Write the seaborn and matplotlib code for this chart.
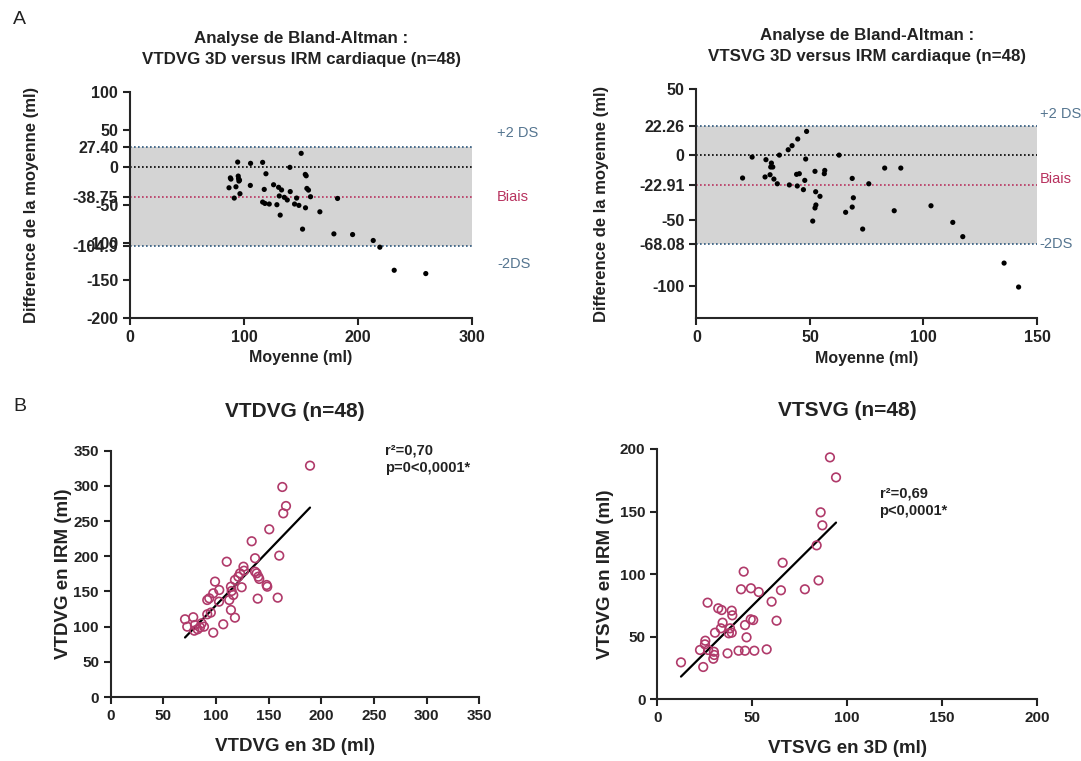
import numpy as np
import pandas as pd
import seaborn as sns
import matplotlib.pyplot as plt

# ---- data ----
# Bland-Altman VTDVG (mean, difference)
ba_tdv_mean = [86.8, 88.5, 91.4, 92.9, 94.4, 94.9, 95.2, 95.5, 96.4, 105.7, 105.5, 116.3,
               119.2, 117.7, 116.3, 118.3, 122.1, 125.9, 128.8, 130.3, 131.7, 132.9, 130.9,
               135.3, 137.9, 140.2, 140.5, 144.3, 146.1, 148.1, 150.1, 151.3, 153.7, 154.5,
               155.1, 156.5, 153.9, 158.3, 166.5, 182.0, 178.8, 195.2, 213.3, 219.1, 231.7,
               259.4, 88.0, 96.0]
ba_tdv_diff = [-27.1, -15.6, -40.8, -25.8, 7.0, -11.6, -15.1, -18.2, -35.0, 5.3, -24.0, 6.6,
               -8.5, -29.3, -46.1, -47.9, -48.7, -23.1, -49.6, -26.5, -63.4, -30.0, -38.0,
               -39.8, -43.3, 0.0, -32.2, -48.7, -40.8, -50.5, 18.6, -82.0, -9.4, -11.2,
               -28.0, -30.2, -53.7, -39.0, -59.0, -41.3, -88.3, -89.2, -97.1, -106.0, -136.6,
               -141.0, -14.0, -17.0]
tdv_bias, tdv_lo, tdv_hi = -38.75, -104.9, 27.40

# Bland-Altman VTSVG
ba_tsv_mean = [20.3, 24.5, 30.2, 30.6, 32.4, 33.0, 32.7, 33.6, 34.1, 35.6, 36.5, 40.4, 42.1,
               44.6, 48.5, 40.9, 44.1, 45.3, 44.4, 47.7, 47.1, 48.1, 52.2, 52.5, 54.4, 52.6,
               52.2, 51.2, 56.5, 56.3, 62.8, 65.7, 68.6, 69.1, 68.6, 73.2, 75.9, 82.9, 90.0,
               87.1, 103.3, 112.9, 117.3, 135.5, 141.9]
ba_tsv_diff = [-17.8, -1.8, -17.0, -3.8, -15.3, -6.4, -9.4, -9.4, -18.6, -22.2, -0.3, 3.8, 6.9,
               12.0, 17.8, -23.1, -15.0, -14.5, -23.9, -19.6, -26.7, -3.3, -12.7, -28.3, -31.8,
               -38.4, -40.7, -50.7, -12.0, -14.5, -0.3, -44.0, -18.1, -32.9, -40.0, -56.8,
               -22.2, -10.2, -10.2, -42.8, -39.0, -51.7, -62.6, -82.8, -101.1]
tsv_bias, tsv_lo, tsv_hi = -22.91, -68.08, 22.26

# Correlation VTDVG (3D, IRM)
tdv_3d = [189.2, 162.9, 166.4, 163.8, 150.5, 133.8, 160.0, 137.0, 110.1, 126.5, 137.0, 140.1,
          141.0, 148.0, 148.6, 158.5, 139.5, 121.1, 122.7, 117.9, 124.3, 114.1, 114.8, 116.3,
          112.5, 114.1, 117.9, 99.0, 103.0, 93.5, 91.6, 97.3, 102.8, 91.6, 106.8, 97.3, 88.5,
          78.3, 70.5, 72.6, 79.9, 82.5, 79.3, 84.7, 86.3, 126.0, 138.5, 95.0]
tdv_irm = [328.7, 298.4, 271.4, 261.0, 238.3, 221.3, 200.9, 197.2, 192.3, 179.5, 178.1, 171.0,
           167.8, 159.2, 156.8, 141.2, 139.8, 171.0, 175.8, 166.3, 156.0, 156.8, 150.7, 145.0,
           137.9, 123.7, 112.8, 164.0, 152.1, 140.3, 137.9, 147.4, 135.5, 117.6, 103.4, 91.5,
           100.0, 113.4, 110.5, 100.0, 102.4, 96.3, 94.3, 99.1, 104.8, 185.2, 175.8, 120.0]

# Correlation VTSVG
tsv_3d = [90.9, 94.1, 86.0, 86.9, 83.9, 84.9, 77.7, 66.0, 65.1, 60.2, 62.8, 57.6, 45.5, 44.1,
          49.3, 53.4, 26.5, 32.1, 33.9, 39.2, 39.5, 34.4, 33.5, 30.4, 38.3, 37.7, 39.2, 46.2,
          49.2, 50.5, 47.0, 42.8, 46.2, 51.1, 37.0, 25.3, 25.1, 22.5, 26.8, 29.8, 30.0, 29.5,
          24.2, 12.5]
tsv_irm = [193.3, 177.3, 149.4, 139.0, 123.0, 95.0, 87.9, 109.1, 87.1, 78.0, 62.8, 39.9, 102.0,
           87.9, 88.7, 85.7, 77.2, 72.7, 71.3, 70.8, 67.1, 61.2, 56.7, 53.2, 56.7, 52.7, 53.2,
           59.3, 63.9, 63.3, 49.5, 38.8, 38.8, 38.8, 36.7, 46.8, 43.9, 39.4, 39.4, 38.0, 35.4,
           32.4, 25.8, 29.5]

# ---- style ----
sns.set_style("ticks")
plt.rcParams["font.family"] = ["Liberation Sans", "DejaVu Sans"]
plt.rcParams["axes.linewidth"] = 1.5
plt.rcParams["xtick.major.width"] = 1.5
plt.rcParams["ytick.major.width"] = 1.5
plt.rcParams["xtick.major.size"] = 5
plt.rcParams["ytick.major.size"] = 5

c_lim = "#2b557a"
c_lim_txt = "#557590"
c_bias = "#b8325f"
c_circ = "#b03a6a"
dots = (0, (1, 1.4))

fig = plt.figure(figsize=(10.81, 7.61), dpi=100)
ax1 = fig.add_axes([0.1203, 0.5821, 0.3164, 0.2970])
ax2 = fig.add_axes([0.6443, 0.5817, 0.3150, 0.3010])
ax3 = fig.add_axes([0.1025, 0.0840, 0.3409, 0.3238])
ax4 = fig.add_axes([0.6080, 0.0811, 0.3515, 0.3289])


def bland_altman(ax, mean, diff, bias, lo, hi, xlim, ylim, xticks, yticks, title, offs, ypad):
    ax.axhspan(lo, hi, color="#d4d4d4", zorder=0, lw=0)
    ax.axhline(hi, color=c_lim, ls=dots, lw=1.2, zorder=1)
    ax.axhline(lo, color=c_lim, ls=dots, lw=1.2, zorder=1)
    ax.axhline(0, color="black", ls=dots, lw=1.2, zorder=1)
    ax.axhline(bias, color=c_bias, ls=dots, lw=1.2, zorder=1)
    sns.scatterplot(x=mean, y=diff, ax=ax, color="black", s=14, edgecolor="none", zorder=3)
    ax.set_xlim(xlim)
    ax.set_ylim(ylim)
    ax.set_xticks(xticks)
    ticks = list(yticks) + [hi, bias, lo]
    labels = [str(v) for v in yticks] + [f"{hi:.2f}", f"{bias:.2f}",
                                         f"{lo:.2f}" if abs(lo) < 100 else f"{lo:.1f}"]
    ax.set_yticks(ticks)
    ax.set_yticklabels(labels)
    n = len(yticks)
    for i, lab in enumerate(ax.get_yticklabels()):
        lab.set_fontweight("bold")
        if i == n or i == n + 2:
            lab.set_color(c_lim)
        elif i == n + 1:
            lab.set_color(c_bias)
    for lab in ax.get_xticklabels():
        lab.set_fontweight("bold")
    ax.tick_params(labelsize=11.5, colors="#222222")
    sns.despine(ax=ax)
    ax.set_xlabel("Moyenne (ml)", fontsize=11.5, fontweight="bold", color="#222222")
    ax.set_ylabel("Difference de la moyenne (ml)", fontsize=12, fontweight="bold",
                  color="#222222", labelpad=ypad)
    ax.set_title(title, fontsize=12.2, fontweight="bold", pad=20, color="#222222", linespacing=1.55)
    tr = ax.get_yaxis_transform()
    ax.annotate("+2 DS", (1.0, hi), xycoords=tr, xytext=(offs[0], offs[1]), textcoords="offset points",
                ha="left", va="center", fontsize=10.5, color=c_lim_txt)
    ax.annotate("Biais", (1.0, bias), xycoords=tr, xytext=(offs[0], offs[2]), textcoords="offset points",
                ha="left", va="center", fontsize=10.5, color=c_bias)
    ax.annotate("-2DS", (1.0, lo), xycoords=tr, xytext=(offs[0], offs[3]), textcoords="offset points",
                ha="left", va="center", fontsize=10.5, color=c_lim_txt)


bland_altman(ax1, ba_tdv_mean, ba_tdv_diff, tdv_bias, tdv_lo, tdv_hi, (0, 300), (-200, 100),
             [0, 100, 200, 300], [100, 50, 0, -50, -100, -150, -200],
             "Analyse de Bland-Altman :\nVTDVG 3D versus IRM cardiaque (n=48)", (18, 10, 0, -13), 24)
bland_altman(ax2, ba_tsv_mean, ba_tsv_diff, tsv_bias, tsv_lo, tsv_hi, (0, 150), (-125, 50),
             [0, 50, 100, 150], [50, 0, -50, -100],
             "Analyse de Bland-Altman :\nVTSVG 3D versus IRM cardiaque (n=48)", (2, 8, 4, 0), 22)


def correlation(ax, x, y, lim, ticks, title, xlab, ylab, stats, pos, ypad):
    sns.regplot(x=x, y=y, ax=ax, ci=None, scatter=False, truncate=True,
                line_kws=dict(color="black", lw=1.6))
    sns.scatterplot(x=x, y=y, ax=ax, s=38, facecolor="none", edgecolor=c_circ, linewidth=1.2, zorder=3)
    ax.set_xlim(lim[0])
    ax.set_ylim(lim[1])
    ax.set_xticks(ticks[0])
    ax.set_yticks(ticks[1])
    for lab in ax.get_xticklabels() + ax.get_yticklabels():
        lab.set_fontweight("bold")
    ax.tick_params(labelsize=11, colors="#222222")
    sns.despine(ax=ax)
    ax.set_xlabel(xlab, fontsize=13.5, fontweight="bold", color="#222222", labelpad=11)
    ax.set_ylabel(ylab, fontsize=13.5, fontweight="bold", color="#222222", labelpad=ypad)
    ax.set_title(title, fontsize=15, fontweight="bold", pad=24, color="#222222")
    ax.text(pos[0], pos[1], stats, transform=ax.transAxes, fontsize=10.5, fontweight="bold",
            va="top", ha="left", linespacing=1.3, color="#222222")


correlation(ax3, tdv_3d, tdv_irm, ((0, 350), (0, 350)),
            (range(0, 351, 50), range(0, 351, 50)), "VTDVG (n=48)",
            "VTDVG en 3D (ml)", "VTDVG en IRM (ml)", "r²=0,70\np=0<0,0001*", (0.745, 1.03), 1)
correlation(ax4, tsv_3d, tsv_irm, ((0, 200), (0, 200)),
            (range(0, 201, 50), range(0, 201, 50)), "VTSVG (n=48)",
            "VTSVG en 3D (ml)", "VTSVG en IRM (ml)", "r²=0,69\np<0,0001*", (0.585, 0.85), 4)

fig.text(0.012, 0.985, "A", fontsize=14, va="top", ha="left", color="#222222")
fig.text(0.012, 0.477, "B", fontsize=14, va="top", ha="left", color="#222222")

plt.savefig("out.png", dpi=100)
